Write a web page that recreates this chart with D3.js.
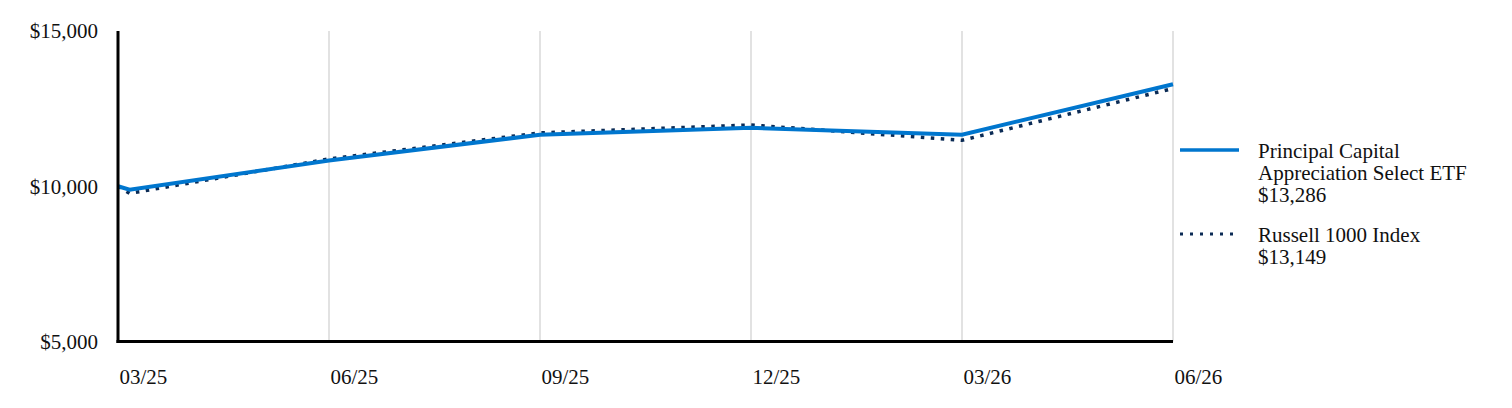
<!DOCTYPE html>
<html>
<head>
<meta charset="utf-8">
<script src="https://cdn.jsdelivr.net/npm/d3@7"></script>
<style>
  html, body { margin: 0; padding: 0; background: #fff; }
  svg { display: block; }
  text { font-family: "Liberation Serif", "Times New Roman", serif; fill: #111; }
</style>
</head>
<body>
<svg id="chart" width="1512" height="408"></svg>
<script>
// ---- data ----
const tickLabels = ["03/25", "06/25", "09/25", "12/25", "03/26", "06/26"];
const tickPeriods = [0, 1, 2, 3, 4, 5];            // quarters from inception
const periods = [0, 0.055, 1, 2, 3, 4, 5];         // inception, 03/31/25, then quarter ends
const fundValues = [10000, 9890, 10830, 11660, 11880, 11660, 13286];
const indexValues = [10000, 9770, 10880, 11720, 11975, 11480, 13149];
const yTicks = [5000, 10000, 15000];
const seriesNames = [["Principal Capital", "Appreciation Select ETF", "$13,286"], ["Russell 1000 Index", "$13,149"]];

const svg = d3.select("#chart");
const x = d3.scaleLinear().domain([0, 5]).range([118, 1173]);
const y = d3.scaleLinear().domain([5000, 15000]).range([341.5, 31]);

const fundColor = "#0076CE";
const indexColor = "#0B2B55";

// gridlines
svg.append("g").selectAll("line").data(tickPeriods.slice(1)).join("line")
  .attr("x1", d => x(d)).attr("x2", d => x(d))
  .attr("y1", y(15000)).attr("y2", y(5000))
  .attr("stroke", "#d9d9d9").attr("stroke-width", 1.5);

// y axis labels
const yAxis = d3.axisLeft(y).tickValues(yTicks).tickSize(0).tickPadding(20)
  .tickFormat(d => "$" + d3.format(",")(d));
const gy = svg.append("g").attr("transform", "translate(118,0)").call(yAxis);
gy.select(".domain").remove();
gy.selectAll("text").style("font-size", "21px").attr("font-family", null).attr("dy", "0.33em");

// x axis labels
const xAxis = d3.axisBottom(x).tickValues(tickPeriods).tickSize(0).tickPadding(0)
  .tickFormat((d, i) => tickLabels[i]);
const gx = svg.append("g").attr("transform", "translate(0,341.5)").call(xAxis);
gx.select(".domain").remove();
gx.selectAll("text").style("font-size", "21px").attr("font-family", null)
  .attr("text-anchor", "start").attr("dx", 1).attr("y", 36).attr("dy", "0.33em");

// lines
const line = d3.line().x(d => x(d[0])).y(d => y(d[1]));
svg.append("path").datum(periods.map((p, i) => [p, indexValues[i]]))
  .attr("d", line).attr("fill", "none").attr("stroke", indexColor)
  .attr("stroke-width", 3.5).attr("stroke-dasharray", "3.5,6.5");
svg.append("path").datum(periods.map((p, i) => [p, fundValues[i]]))
  .attr("d", line).attr("fill", "none").attr("stroke", fundColor)
  .attr("stroke-width", 4).attr("stroke-linejoin", "miter");

// axis lines
svg.append("line").attr("x1", 118).attr("x2", 118).attr("y1", y(15000)).attr("y2", y(5000) + 1.5)
  .attr("stroke", "#000").attr("stroke-width", 3);
svg.append("line").attr("x1", 116.5).attr("x2", x(5)).attr("y1", y(5000)).attr("y2", y(5000))
  .attr("stroke", "#000").attr("stroke-width", 3);

// legend
const lg = svg.append("g");
lg.append("line").attr("x1", 1180).attr("x2", 1239).attr("y1", 150).attr("y2", 150)
  .attr("stroke", fundColor).attr("stroke-width", 3.5);
lg.append("line").attr("x1", 1180).attr("x2", 1239).attr("y1", 234).attr("y2", 234)
  .attr("stroke", indexColor).attr("stroke-width", 3).attr("stroke-dasharray", "3,7");
const legendY = [158, 237];
seriesNames.forEach((lines, k) => {
  const t = lg.append("text").attr("x", 1258).attr("y", legendY[k] + (k === 0 ? 0 : 5)).style("font-size", "21px");
  lines.forEach((s, j) => t.append("tspan").attr("x", 1258).attr("dy", j === 0 ? 0 : 22).text(s));
});
</script>
</body>
</html>
